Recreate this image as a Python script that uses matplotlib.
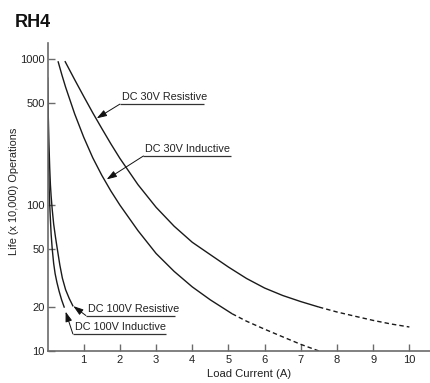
import matplotlib
matplotlib.use("Agg")
import matplotlib.pyplot as plt

plt.rcParams['font.family'] = ['Liberation Sans', 'DejaVu Sans']

# Load current (A) vs. life (x 10,000 operations)
res30_x = [0.48, 0.75, 1.0, 1.25, 1.5, 1.75, 2.0, 2.5, 3.0, 3.5, 4.0, 4.5, 5.0, 5.5, 6.0, 6.5, 7.0, 7.5]
res30_y = [970, 724, 556, 429, 335, 263, 209, 138, 96.6, 71.6, 55.6, 45.7, 37.6, 31.4, 27.0, 24.0, 21.8, 20.0]
res30_dash_x = [7.5, 8.0, 8.5, 9.0, 9.5, 10.0]
res30_dash_y = [20.0, 18.5, 17.3, 16.2, 15.3, 14.6]

ind30_x = [0.29, 0.4, 0.5, 0.75, 1.0, 1.25, 1.5, 1.75, 2.0, 2.5, 3.0, 3.5, 4.0, 4.5, 5.1]
ind30_y = [968, 776, 643, 422, 292, 211, 160, 125, 100, 66.8, 46.6, 35.1, 27.5, 22.4, 18.0]
ind30_dash_x = [5.1, 5.5, 6.0, 6.5, 7.0, 7.5]
ind30_dash_y = [18.0, 16.0, 14.1, 12.5, 11.1, 10.0]

res100_x = [0.0, 0.02, 0.04, 0.06, 0.08, 0.10, 0.13, 0.17, 0.22, 0.27, 0.34, 0.41, 0.5, 0.6, 0.7]
res100_y = [741, 417, 263, 182, 138, 115, 93.3, 74.1, 60.3, 50.1, 38.9, 31.6, 26.3, 22.9, 20.4]

ind100_x = [0.0, 0.01, 0.02, 0.03, 0.045, 0.06, 0.08, 0.10, 0.13, 0.17, 0.21, 0.26, 0.32, 0.39, 0.46]
ind100_y = [741, 398, 263, 186, 132, 102, 79.4, 63.1, 50.1, 39.8, 33.9, 29.5, 25.7, 22.4, 20.0]

x_ticks = [1, 2, 3, 4, 5, 6, 7, 8, 9, 10]
y_ticks = [10, 20, 50, 100, 500, 1000]
y_tick_labels = ['10', '20', '50', '100', '500', '1000']

AXIS_GRAY = '#6b6b6b'
CURVE = '#1a1a1a'

fig = plt.figure(figsize=(4.30, 3.83), dpi=100)
ax = fig.add_axes([0.1105, 0.0836, 0.8895, 0.8034])

ax.set_yscale('log')
ax.set_xlim(0, 10.57)
ax.set_ylim(10, 1285)

lw = 1.0
dash = (0, (3.2, 2.2))
ax.plot(res30_x, res30_y, color=CURVE, lw=lw, solid_capstyle='butt')
ax.plot(res30_dash_x, res30_dash_y, color=CURVE, lw=lw, linestyle=dash)
ax.plot(ind30_x, ind30_y, color=CURVE, lw=lw, solid_capstyle='butt')
ax.plot(ind30_dash_x, ind30_dash_y, color=CURVE, lw=lw, linestyle=dash)
ax.plot(res100_x, res100_y, color=CURVE, lw=lw)
ax.plot(ind100_x, ind100_y, color=CURVE, lw=lw)

for s in ['top', 'right']:
    ax.spines[s].set_visible(False)
for s in ['left', 'bottom']:
    ax.spines[s].set_color(AXIS_GRAY)
    ax.spines[s].set_linewidth(1.2)

ax.set_xticks(x_ticks)
ax.set_xticklabels([str(t) for t in x_ticks])
ax.set_yticks(y_ticks)
ax.set_yticklabels(y_tick_labels)
ax.yaxis.set_minor_locator(matplotlib.ticker.NullLocator())
ax.tick_params(axis='both', direction='in', length=5, width=1.0, color=AXIS_GRAY,
               labelsize=8, labelcolor='#222222')
ax.tick_params(axis='y', pad=2)
ax.tick_params(axis='x', pad=3)

# Leader annotations: (label, underline start x, underline end x, underline y, arrow tip)
notes = [
    ('DC 30V Resistive', 2.0, 4.33, 492, (1.36, 393)),
    ('DC 30V Inductive', 2.65, 5.08, 217, (1.635, 150)),
    ('DC 100V Resistive', 1.06, 3.52, 17.5, (0.713, 20.3)),
    ('DC 100V Inductive', 0.70, 3.27, 13.1, (0.50, 18.6)),
]
for label, x0, x1, yl, tip in notes:
    ax.plot([x0, x1], [yl, yl], color='#333333', lw=0.9, solid_capstyle='butt')
    ax.annotate('', xy=tip, xytext=(x0, yl),
                arrowprops=dict(arrowstyle='-|>,head_length=0.6,head_width=0.2',
                                color='#111111', lw=0.7, shrinkA=0, shrinkB=0))
    ax.annotate(label, xy=(x0, yl), xytext=(1.5, 1.2), textcoords='offset points',
                ha='left', va='bottom', fontsize=7.85, color='#222222')

fig.text(15 / 430, 1 - 14 / 383, 'RH4', fontsize=13, fontweight='bold',
         ha='left', va='top', color='#111111')
fig.text(14 / 430, 1 - 191 / 383, 'Life (x 10,000) Operations', rotation=90,
         fontsize=7.95, ha='center', va='center', color='#222222')
fig.text(249.5 / 430, 1 - 374 / 383, 'Load Current (A)', fontsize=8.1,
         ha='center', va='center', color='#222222')

fig.savefig('out.png', dpi=100)
